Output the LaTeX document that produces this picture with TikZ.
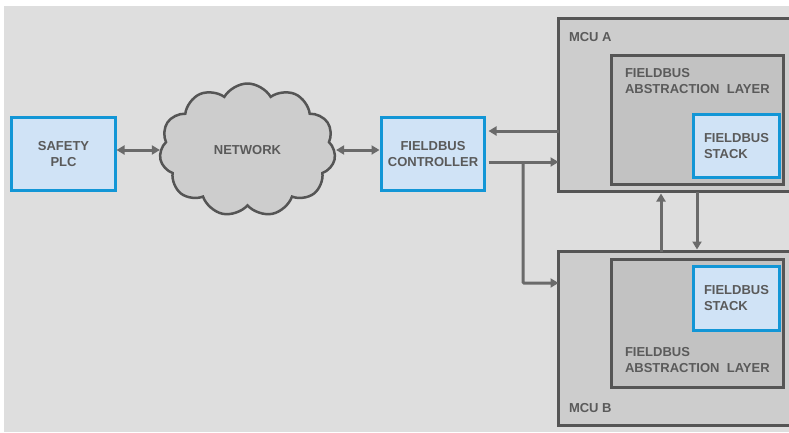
\documentclass[tikz,border=0pt]{standalone}
\usepackage{fontspec}
\setmainfont{Liberation Sans}
\usetikzlibrary{shapes.symbols,arrows.meta}

\definecolor{bggray}{HTML}{DEDEDE}
\definecolor{mcugray}{HTML}{CDCDCD}
\definecolor{falgray}{HTML}{C2C2C2}
\definecolor{edgegray}{HTML}{555555}
\definecolor{linkgray}{HTML}{6A6A6A}
\definecolor{txtgray}{HTML}{5A5A5A}
\definecolor{fbblue}{HTML}{1296D6}
\definecolor{fbfill}{HTML}{D0E3F6}

\begin{document}
\begin{tikzpicture}[x=1pt,y=-1pt,
	    every node/.style={inner sep=0pt,outer sep=0pt,text=txtgray,
	      font=\fontsize{13}{16}\selectfont\bfseries},
	    bluebox/.style={draw=fbblue,line width=2.5pt,fill=fbfill,align=center},
	    stackbox/.style={bluebox,align=left,minimum width=86pt,minimum height=63pt},
	    mcubox/.style={draw=edgegray,line width=3pt,fill=mcugray,
	      minimum width=232pt,minimum height=173pt},
	    falbox/.style={draw=edgegray,line width=3pt,fill=falgray,
	      minimum width=172pt,minimum height=129pt},
	    link/.style={draw=linkgray,line width=3pt,
	      -{Triangle[length=8pt,width=9pt]}},
	    dlink/.style={link,{Triangle[length=8pt,width=9pt]}-{Triangle[length=8pt,width=9pt]}}]
	    \useasboundingbox (0,0) rectangle (789,432);
	    \clip (0,0) rectangle (789,432);
	    \fill [white] (0,0) rectangle (789,432);
	    \fill [bggray] (4,6) rectangle (789,432);
	    \node (plc) at (63.5,154) [bluebox,minimum width=104pt,minimum height=73pt] {SAFETY\\PLC};
	    \node (net) at (247.5,150) [cloud,cloud puffs=11,cloud puff arc=120,aspect=1.3,
	      draw=edgegray,line width=2.5pt,fill=mcugray,minimum width=176pt,minimum height=133pt] {NETWORK};
	    \node (ctrl) at (433,154) [bluebox,minimum width=103pt,minimum height=73pt] {FIELDBUS\\CONTROLLER};
	    \node (mcua) at (674.5,105) [mcubox] {};
	    \node (mcub) at (674.5,338.5) [mcubox,minimum height=174pt] {};
	    \node (fala) at (697.5,120) [falbox] {};
	    \node (falb) at (697.5,323.5) [falbox,minimum height=128pt] {};
	    \node (stacka) at (736.5,146) [stackbox] {FIELDBUS\\STACK};
	    \node (stackb) at (736.5,298.5) [stackbox,minimum height=64pt] {FIELDBUS\\STACK};
	    \node (mcualbl) at (569,37.5) [anchor=west] {MCU A};
	    \node (mcublbl) at (569,408) [anchor=west] {MCU B};
	    \node (falalbl) at (625,81) [anchor=west,align=left] {FIELDBUS\\ABSTRACTION\ \ LAYER};
	    \node (falblbl) at (625,360) [anchor=west,align=left] {FIELDBUS\\ABSTRACTION\ \ LAYER};
	    \coordinate (split) at (523,162);
	    \draw [dlink,shorten <=1pt,shorten >=1pt] (plc.east |- net.west) -- (net.west);
	    \draw [dlink,shorten <=2pt,shorten >=2pt] (net.east) -- (net.east -| ctrl.west);
	    \draw [link,shorten >=4pt] (mcua.west |- 0,131) -- (ctrl.east |- 0,131);
	    \draw [link,shorten <=4pt] (ctrl.east |- split) -- (mcua.west |- split);
	    \draw [link,rounded corners=1pt] (split) -- (split |- 0,283) -- (mcub.west |- 0,283);
	    \draw [link,shorten >=2pt] (mcub.north -| 661,0) -- (mcua.south -| 661,0);
	    \draw [link,shorten >=2pt] (mcua.south -| 697,0) -- (mcub.north -| 697,0);
\end{tikzpicture}
\end{document}
